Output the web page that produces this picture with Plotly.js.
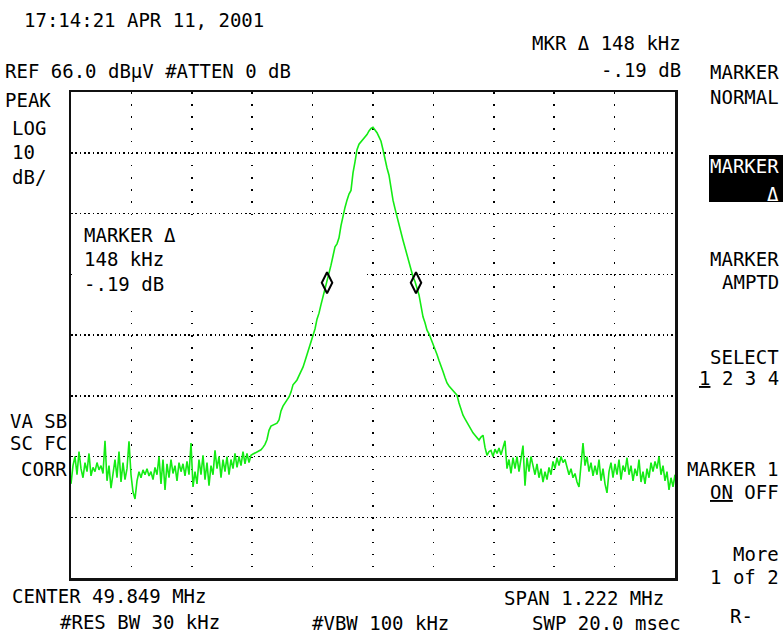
<!DOCTYPE html>
<html><head><meta charset="utf-8">
<script src="https://cdn.plot.ly/plotly-3.0.1.min.js"></script>
<style>html,body{margin:0;padding:0;background:#fff}#chart{width:783px;height:634px}</style>
</head><body><div id="chart"></div>
<script>
// Analyzer settings
const CENTER_MHZ = 49.849;
const SPAN_MHZ = 1.222;
const REF_LEVEL_DBUV = 66.0;
const DB_PER_DIV = 10;
const X_DIVS = 10;
const Y_DIVS = 8;

// Trace amplitude (dBuV), evenly spaced sweep points across the span
const traceDb = [
 1.5, 4.5, 6.0, 3.0, 6.8, 4.0, 2.5, 5.0, 3.5, 6.5,
 2.8, 4.2, 3.5, 5.0, 3.8, 4.5, 3.2, 8.6, 2.0, 4.5,
 0.8, 3.5, 5.5, 2.5, 6.8, 1.8, 5.0, 2.2, 4.0, 8.5,
 3.0, 0.2, -1.0, 2.0, 3.5, 2.5, 3.8, 3.0, 4.0, 2.8,
 3.5, 2.2, 4.2, 3.0, 6.0, 1.5, 5.5, 0.5, 4.8, 2.5,
 5.5, 3.2, 4.5, 2.0, 5.0, 3.5, 4.8, 2.8, 5.2, 3.0,
 8.2, 1.0, 3.5, 1.5, 5.5, 3.0, 6.2, 2.2, 5.0, 1.2,
 4.5, 3.0, 7.0, 4.0, 6.0, 2.5, 5.5, 3.5, 6.0, 3.0,
 5.5, 4.0, 6.5, 4.2, 6.0, 4.5, 6.8, 4.8, 6.5, 5.0,
 6.2, 6.4, 6.6, 6.8, 7.0, 7.1, 7.5, 8.0, 8.8, 10.3,
 11.0, 11.2, 11.4, 11.5, 12.0, 13.5, 14.3, 14.8, 15.4, 15.8,
 16.6, 17.8, 18.2, 18.6, 19.3, 20.0, 20.7, 21.7, 22.8, 23.8,
 24.8, 26.0, 27.0, 28.6, 29.6, 31.0, 32.3, 33.5, 34.6, 36.2,
 37.5, 39.0, 40.5, 41.0, 42.0, 44.0, 45.8, 47.0, 48.2, 49.2,
 49.8, 52.7, 54.5, 56.5, 57.4, 57.8, 58.2, 58.6, 59.0, 59.6,
 60.0, 60.2, 59.8, 59.3, 58.6, 57.9, 56.5, 54.8, 53.5, 52.3,
 49.8, 48.2, 46.8, 45.4, 44.0, 42.6, 41.6, 40.4, 39.2, 37.8,
 36.6, 35.6, 34.8, 33.8, 32.6, 30.8, 29.0, 28.0, 26.8, 26.2,
 25.4, 24.6, 23.8, 22.8, 21.8, 21.0, 20.0, 19.0, 18.1, 17.6,
 17.2, 16.8, 16.4, 16.1, 14.8, 13.6, 12.8, 12.2, 11.6, 11.0,
 10.4, 9.9, 9.5, 9.0, 8.7, 9.2, 9.5, 7.5, 6.2, 6.8,
 7.0, 6.0, 7.2, 6.5, 7.4, 6.3, 7.5, 8.6, 4.0, 5.5,
 3.2, 5.8, 4.0, 6.0, 3.5, 5.5, 7.8, 1.2, 5.8, 3.5,
 6.0, 4.5, 3.0, 4.8, 2.5, 4.0, 1.8, 3.5, 2.2, 4.2,
 3.0, 5.2, 4.0, 5.8, 4.5, 6.0, 5.0, 5.5, 4.2, 3.0,
 4.0, 2.5, 3.2, 1.8, 1.0, 5.0, 8.2, 4.5, 6.0, 3.5,
 5.0, 2.8, 4.5, 3.0, 5.5, 2.0, 4.0, 1.5, 0.0, 3.5,
 5.0, 2.5, 4.8, 3.0, 5.5, 2.2, 4.5, 3.5, 5.8, 3.0,
 4.5, 2.0, 4.0, 2.8, 5.5, 1.8, 3.5, 1.5, 4.0, 2.5,
 5.0, 3.5, 5.2, 4.0, 6.0, 3.0, 4.5, 2.0, 3.5, 0.5,
 2.5, 1.0, 3.0
];

// Delta marker pair (MHz, dBuV)
const markerFreqs = [49.756, 49.936];
const markerDb = [34.6, 34.6];

// Screen annotations
const leftTexts = [
  ["17:14:21 APR 11, 2001", 22, 20],
  ["REF 66.0 dBμV #ATTEN 0 dB", 3, 71],
  ["PEAK", 3, 100],
  ["LOG", 10, 128],
  ["10", 10, 152],
  ["dB/", 10, 177],
  ["MARKER Δ", 82, 235],
  ["148 kHz", 82, 259],
  ["-.19 dB", 82, 284],
  ["CENTER 49.849 MHz", 10, 596],
  ["#RES BW 30 kHz", 58, 622],
  ["#VBW 100 kHz", 310, 623],
  ["SPAN 1.222 MHz", 502, 598],
  ["SWP 20.0 msec", 530, 623]
];
const rightTexts = [
  ["MKR Δ 148 kHz", 683, 43],
  ["-.19 dB", 683, 70],
  ["VA SB", 69, 421],
  ["SC FC", 69, 443],
  ["CORR", 69, 469],
  ["MARKER", 781, 72],
  ["NORMAL", 781, 97],
  ["MARKER", 781, 259],
  ["AMPTD", 781, 282],
  ["SELECT", 781, 357],
  ["<span style='text-decoration:underline'>1</span> 2 3 4", 781, 378],
  ["MARKER 1", 781, 469],
  ["<span style='text-decoration:underline'>ON</span> OFF", 781, 492],
  ["More", 781, 554],
  ["1 of 2", 781, 577],
  ["R-", 755, 616]
];
const activeKey = [["MARKER", 781, 166], ["Δ", 781, 194]];

// ---- geometry (plot frame in pixels) ----
const W = 783, H = 634, L = 71, R = 675, T = 92, B = 578;
const fStart = CENTER_MHZ - SPAN_MHZ / 2, fStop = CENTER_MHZ + SPAN_MHZ / 2;
const yTop = REF_LEVEL_DBUV, yBot = REF_LEVEL_DBUV - Y_DIVS * DB_PER_DIV;
const px2f = p => fStart + (p - L) / (R - L) * SPAN_MHZ;
const py2db = p => yTop - (p - T) / (B - T) * (yTop - yBot);
const paperX = p => (p - L) / (R - L);
const paperY = p => (B - p) / (B - T);

const FONT = "DejaVu Sans Mono";
const annotations = [];
leftTexts.forEach(([t, x, y]) => annotations.push({text: t, xref: 'paper', yref: 'paper', x: paperX(x), y: paperY(y), xanchor: 'left', yanchor: 'middle', showarrow: false, font: {family: FONT, size: 19, color: '#000'}}));
rightTexts.forEach(([t, x, y]) => annotations.push({text: t, xref: 'paper', yref: 'paper', x: paperX(x), y: paperY(y), xanchor: 'right', yanchor: 'middle', showarrow: false, font: {family: FONT, size: 19, color: '#000'}}));
activeKey.forEach(([t, x, y]) => annotations.push({text: t, xref: 'paper', yref: 'paper', x: paperX(x), y: paperY(y), xanchor: 'right', yanchor: 'middle', showarrow: false, font: {family: FONT, size: 19, color: '#fff'}}));

const shapes = [
  // grid areas blanked on the analyzer screen
  {type: 'rect', layer: 'between', xref: 'x', yref: 'paper', x0: px2f(391), x1: px2f(581), y0: 0.003, y1: 0.997, fillcolor: '#fff', line: {width: 0}},
  {type: 'rect', layer: 'between', xref: 'x', yref: 'y', x0: px2f(72), x1: px2f(366), y0: py2db(306), y1: py2db(216), fillcolor: '#fff', line: {width: 0}},
  // highlighted softkey
  {type: 'rect', xref: 'paper', yref: 'paper', x0: paperX(709), x1: paperX(783), y0: paperY(202), y1: paperY(155), fillcolor: '#000', line: {width: 0}}
];

const data = [
  {type: 'scatter', mode: 'lines', y: traceDb, x0: fStart, dx: SPAN_MHZ / (traceDb.length - 1),
   line: {color: 'rgb(20,235,20)', width: 1.6}, hoverinfo: 'skip'},
  {type: 'scatter', mode: 'markers', x: markerFreqs, y: markerDb,
   marker: {symbol: 'diamond-tall-open', size: 15, color: '#000', line: {width: 2, color: '#000'}}, hoverinfo: 'skip'}
];

const layout = {
  width: W, height: H,
  margin: {l: L, r: W - R, t: T, b: H - B, pad: 0},
  paper_bgcolor: '#fff', plot_bgcolor: '#fff',
  showlegend: false,
  xaxis: {range: [fStart, fStop], tick0: fStart, dtick: SPAN_MHZ / X_DIVS, showgrid: true, gridcolor: '#000', gridwidth: 1.5, griddash: '1.5px,10.65px',
          zeroline: false, showticklabels: false, ticks: '', showline: true, mirror: true, linecolor: '#111', linewidth: 2.5, fixedrange: true},
  yaxis: {range: [yBot, yTop], tick0: yBot, dtick: DB_PER_DIV, showgrid: true, gridcolor: '#000', gridwidth: 1.5, griddash: '1.5px,2.85px',
          zeroline: false, showticklabels: false, ticks: '', showline: true, mirror: true, linecolor: '#111', linewidth: 2.5, fixedrange: true},
  annotations, shapes
};

Plotly.newPlot('chart', data, layout, {displayModeBar: false, staticPlot: true});
</script></body></html>
